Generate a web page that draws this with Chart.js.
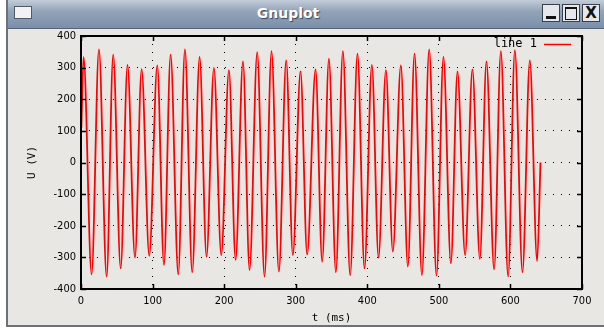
<!DOCTYPE html>
<html>
<head>
<meta charset="utf-8">
<title>Gnuplot</title>
<script src="https://cdn.jsdelivr.net/npm/chart.js@4.4.1/dist/chart.umd.min.js"></script>
<style>
  html, body { margin: 0; padding: 0; background: #ffffff; }
  body { width: 604px; height: 329px; position: relative; overflow: hidden; }
  #win { position: absolute; left: 6px; top: 0; width: 598px; height: 327px;
         background: #e9e7e3; border-left: 2px solid #6b717a; border-bottom: 2px solid #6b717a;
         box-sizing: border-box; }
  #titlebar { position: absolute; left: 0; top: 0; right: 0; height: 28px;
              background: linear-gradient(#c3ccd8, #93a4b9 40%, #7a8fa9);
              border-bottom: 1px solid #56657a; }
  #titlebar .name { position: absolute; left: 30px; right: 66px; top: 5px; text-align: center;
                    font: bold 14px "DejaVu Sans", sans-serif; color: #ffffff;
                    text-shadow: 1px 1px 1px #3c4656; }
  #titlebar .icon { position: absolute; left: 6px; top: 6px; width: 16px; height: 11px;
                    background: #f2f2f2; border: 1px solid #505a66; }
  #titlebar .btn { position: absolute; top: 4px; width: 18px; height: 18px; box-sizing: border-box;
                   background: #e4e7ec; border: 1px solid #3a414b;
                   font: bold 15px "DejaVu Sans", sans-serif; color: #111; text-align: center; line-height: 17px; }
  #chart { position: absolute; left: 0; top: 0; }
</style>
</head>
<body>
<div id="win">
  <div id="titlebar">
    <div class="icon"></div>
    <div class="name">Gnuplot</div>
    <div class="btn" style="left:534px;"><span style="display:block;margin:11px 3px 0;height:3px;background:#111;"></span></div>
    <div class="btn" style="left:554px;"><span style="display:block;margin:2px 2px 0;height:10px;border:1px solid #111;border-top-width:2px;"></span></div>
    <div class="btn" style="left:574px;">X</div>
  </div>
</div>
<canvas id="chart" width="604" height="329"></canvas>
<script>
// sample times (ms) of the turning points
const tMs = [0.5, 3.6, 14.8, 25.1, 35.8, 45, 55.4, 65, 75.4, 84.7, 95.4,
  106.6, 115.9, 125.2, 135.9, 145.2, 155.4, 165.7, 175.4, 185.7, 196,
  206.7, 216, 226.3, 235.5, 246.2, 256.4, 266.2, 276.5, 286.7, 296,
  306.7, 316, 327.7, 337, 346.4, 356.1, 365.9, 376.1, 386.3, 396.1,
  406.4, 415.7, 426, 435.7, 446.9, 456.7, 466, 476.3, 486.5, 496.7,
  506.4, 516.8, 526, 536.7, 546.9, 557.3, 566.5, 577.2, 586.6, 596.8,
  606.2, 616.8, 627.1, 637.3, 642];
// voltage (V) at those points
const volts = [110, 334, -354, 358, -361, 341, -335, 309, -301, 295, -295,
  307, -324, 341, -354, 358, -347, 334, -298, 299, -293,
  292, -308, 320, -340, 349, -361, 352, -345, 323, -293,
  288, -291, 294, -314, 328, -347, 352, -356, 344, -335,
  309, -301, 292, -282, 307, -329, 344, -356, 358, -358,
  334, -319, 288, -293, 294, -305, 320, -338, 352, -361,
  355, -347, 323, -312, 0];
const xTicks = [0, 100, 200, 300, 400, 500, 600, 700];
const yTicks = [-400, -300, -200, -100, 0, 100, 200, 300, 400];

const tickFont = { family: '"DejaVu Sans Condensed", "DejaVu Sans", sans-serif', size: 11 };
const monoFont = { family: '"DejaVu Sans Mono", monospace', size: 11 };

// frame, inward tick marks and the legend, gnuplot style
const gnuFrame = {
  id: 'gnuFrame',
  afterDatasetsDraw(chart) {
    const { ctx, chartArea: a, scales } = chart;
    ctx.save();
    ctx.strokeStyle = '#000';
    ctx.lineWidth = 1.5;
    ctx.beginPath();
    xTicks.forEach(v => {
      const px = Math.round(scales.x.getPixelForValue(v)) + 0.5;
      ctx.moveTo(px, a.bottom); ctx.lineTo(px, a.bottom - 5);
      ctx.moveTo(px, a.top); ctx.lineTo(px, a.top + 5);
    });
    yTicks.forEach(v => {
      const py = Math.round(scales.y.getPixelForValue(v)) + 0.5;
      ctx.moveTo(a.left, py); ctx.lineTo(a.left + 5, py);
      ctx.moveTo(a.right, py); ctx.lineTo(a.right - 5, py);
    });
    ctx.stroke();
    ctx.lineWidth = 2;
    ctx.strokeRect(a.left, a.top, a.right - a.left, a.bottom - a.top);

    // legend
    const ds = chart.data.datasets[0];
    ctx.font = '12px "DejaVu Sans Mono", monospace';
    ctx.fillStyle = '#000';
    ctx.textAlign = 'right';
    ctx.textBaseline = 'middle';
    ctx.fillText(ds.label, a.right - 45, a.top + 8);
    ctx.strokeStyle = ds.borderColor;
    ctx.lineWidth = 1.5;
    ctx.beginPath();
    ctx.moveTo(a.right - 38, a.top + 8.5);
    ctx.lineTo(a.right - 11, a.top + 8.5);
    ctx.stroke();
    ctx.restore();
  }
};

new Chart(document.getElementById('chart'), {
  type: 'line',
  data: {
    datasets: [{
      label: 'line 1',
      data: tMs.map((t, i) => ({ x: t, y: volts[i] })),
      borderColor: '#ff0000',
      borderWidth: 1.8,
      pointRadius: 0,
      cubicInterpolationMode: 'monotone',
      fill: false
    }]
  },
  options: {
    responsive: false,
    animation: false,
    layout: { padding: { left: 20, right: 22, top: 36, bottom: 0 } },
    plugins: { legend: { display: false }, tooltip: { enabled: false } },
    scales: {
      x: {
        type: 'linear',
        min: 0, max: 700,
        afterBuildTicks: s => { s.ticks = xTicks.map(v => ({ value: v })); },
        afterFit: s => { s.height = 40; },
        ticks: { color: '#000', font: tickFont, padding: 6, maxRotation: 0 },
        grid: { color: '#000', lineWidth: 1, drawTicks: false },
        border: { display: false, dash: [1, 7] },
        title: { display: true, text: 't (ms)', color: '#000', font: monoFont, padding: { top: 0, bottom: 4 } }
      },
      y: {
        type: 'linear',
        min: -400, max: 400,
        afterBuildTicks: s => { s.ticks = yTicks.map(v => ({ value: v })); },
        afterFit: s => { s.width = 61; },
        ticks: { color: '#000', font: tickFont, padding: 5 },
        grid: { color: '#000', lineWidth: 1, drawTicks: false },
        border: { display: false, dash: [1, 7] },
        title: { display: true, text: 'U (V)', color: '#000', font: monoFont, padding: { top: 6, bottom: 0 } }
      }
    }
  },
  plugins: [gnuFrame]
});
</script>
</body>
</html>
